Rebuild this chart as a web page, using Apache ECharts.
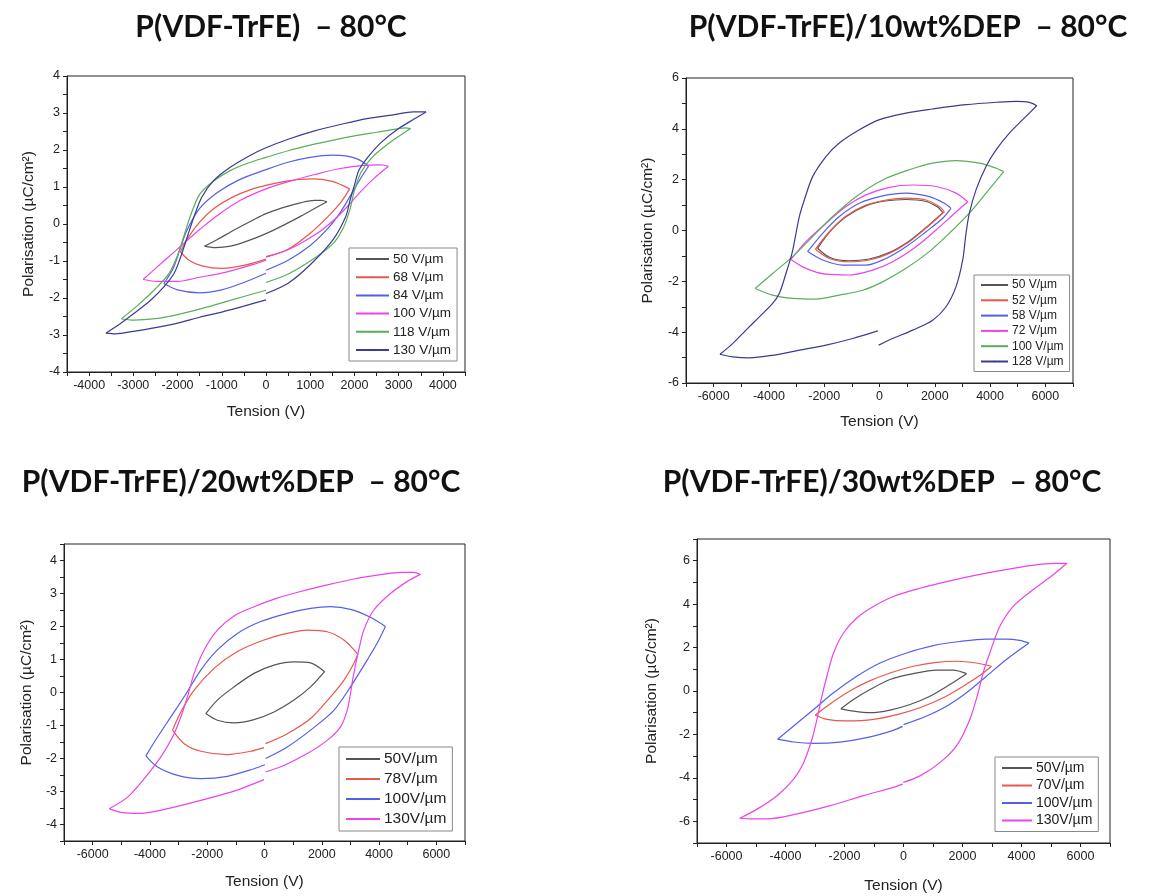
<!DOCTYPE html>
<html>
<head>
    <meta charset="UTF-8">
    <title>Cycles P-E P(VDF-TrFE)/DEP – 80°C</title>
    <script src="https://cdn.jsdelivr.net/npm/echarts@6/dist/echarts.min.js"></script>
    <style>
        html, body { margin: 0; padding: 0; background: #fff; }
        #chart { width: 1152px; height: 896px; }
    </style>
</head>
<body>
    <div id="chart"></div>
    <script>
        // ---- panel 1 : P(VDF-TrFE) ----
        const p1_50_up = [[-1390,-0.6],[-1100,-0.42],[-700,-0.15],[-300,0.1],[0,0.28],[400,0.45],[800,0.58],[1100,0.64],[1250,0.64],[1380,0.6]];
        const p1_50_lo = [[-1390,-0.6],[-1150,-0.64],[-800,-0.6],[-400,-0.45],[0,-0.26],[400,-0.03],[800,0.22],[1100,0.42],[1380,0.6]];
        const p1_68_up = [[-1935,-0.75],[-1750,-0.35],[-1500,0.05],[-1200,0.4],[-800,0.7],[-300,0.95],[200,1.1],[700,1.2],[1100,1.22],[1500,1.15],[1890,0.95]];
        const p1_68_lo = [[-1935,-0.75],[-1750,-0.97],[-1450,-1.13],[-1000,-1.2],[-500,-1.12],[0,-0.95],null,[0,-0.88],[500,-0.68],[1000,-0.25],[1400,0.2],[1700,0.6],[1890,0.95]];
        const p1_84_up = [[-2310,-1.61],[-2100,-1.2],[-1950,-0.7],[-1800,-0.2],[-1500,0.42],[-1100,0.85],[-600,1.2],[0,1.47],[500,1.67],[1000,1.8],[1500,1.86],[1800,1.84],[2100,1.74],[2318,1.56]];
        const p1_84_lo = [[-2310,-1.61],[-2000,-1.78],[-1500,-1.86],[-1000,-1.78],[-500,-1.58],[0,-1.33],null,[0,-1.25],[500,-0.98],[1000,-0.58],[1400,-0.12],[1700,0.35],[1950,0.85],[2150,1.25],[2318,1.56]];
        const p1_100_up = [[-2780,-1.5],[-2460,-1.16],[-2080,-0.76],[-1780,-0.44],[-1480,-0.13],[-1100,0.23],[-580,0.64],[0,0.95],[550,1.16],[1080,1.33],[1680,1.5],[2280,1.59],[2600,1.6],[2770,1.56]];
        const p1_100_lo = [[-2780,-1.5],[-2460,-1.55],[-2000,-1.55],[-1500,-1.44],[-900,-1.3],[-300,-1.1],[0,-0.98],null,[0,-0.9],[550,-0.67],[1150,-0.26],[1530,0.1],[1830,0.46],[2130,0.86],[2430,1.22],[2770,1.56]];
        const p1_118_up = [[-3270,-2.56],[-2900,-2.2],[-2500,-1.75],[-2200,-1.35],[-2000,-0.85],[-1850,-0.3],[-1700,0.25],[-1500,0.8],[-1200,1.15],[-800,1.45],[-400,1.65],[0,1.8],[500,1.98],[1000,2.13],[1500,2.26],[2000,2.38],[2500,2.48],[3000,2.58],[3150,2.6],[3270,2.58]];
        const p1_118_lo = [[-3270,-2.56],[-3000,-2.6],[-2500,-2.56],[-2000,-2.45],[-1500,-2.3],[-1000,-2.13],[-500,-1.96],[0,-1.79],null,[0,-1.58],[500,-1.35],[1000,-1.0],[1500,-0.55],[1750,-0.1],[1900,0.4],[2000,0.9],[2150,1.4],[2400,1.8],[2800,2.2],[3270,2.58]];
        const p1_130_up = [[-3620,-2.95],[-3290,-2.69],[-2990,-2.42],[-2610,-2.06],[-2310,-1.7],[-2080,-1.34],[-1930,-0.89],[-1780,-0.35],[-1630,0.19],[-1450,0.73],[-1180,1.18],[-800,1.54],[-350,1.86],[0,2.06],[550,2.31],[1080,2.51],[1680,2.69],[2280,2.85],[2880,2.95],[3330,3.03],[3620,3.03]];
        const p1_130_lo = [[-3620,-2.95],[-3400,-2.97],[-3000,-2.9],[-2500,-2.8],[-2000,-2.68],[-1500,-2.52],[-1000,-2.38],[-500,-2.22],[0,-2.05],null,[0,-1.88],[500,-1.6],[1000,-1.1],[1500,-0.45],[1800,0.19],[1900,0.64],[2000,1.05],[2100,1.45],[2300,1.8],[2600,2.2],[3000,2.58],[3400,2.87],[3620,3.03]];

        // ---- panel 2 : 10wt% DEP ----
        const p2_50_up = [[-2240,-0.7],[-1800,-0.05],[-1200,0.55],[-500,0.97],[200,1.16],[950,1.22],[1650,1.15],[2100,0.92],[2290,0.7]];
        const p2_50_lo = [[-2240,-0.7],[-1800,-1.06],[-1100,-1.19],[-370,-1.12],[350,-0.87],[1080,-0.41],[1720,0.15],[2290,0.7]];
        const p2_52_up = [[-2320,-0.74],[-1815,-0.05],[-1210,0.57],[-490,1.0],[235,1.2],[960,1.27],[1680,1.2],[2165,0.94],[2346,0.74]];
        const p2_52_lo = [[-2320,-0.74],[-1815,-1.1],[-1090,-1.23],[-370,-1.16],[356,-0.9],[1080,-0.44],[1740,0.15],[2346,0.74]];
        const p2_58_up = [[-2600,-0.83],[-2057,-0.11],[-1453,0.55],[-729,1.07],[114,1.36],[959,1.47],[1803,1.33],[2346,1.07],[2587,0.87]];
        const p2_58_lo = [[-2600,-0.83],[-2057,-1.16],[-1333,-1.36],[-489,-1.36],[235,-1.1],[959,-0.64],[1683,-0.05],[2286,0.48],[2587,0.87]];
        const p2_72_up = [[-3203,-1.14],[-2660,-0.44],[-1936,0.28],[-1212,0.94],[-489,1.4],[356,1.7],[1200,1.79],[2044,1.73],[2769,1.47],[3191,1.13]];
        const p2_72_lo = [[-3203,-1.14],[-2660,-1.49],[-1936,-1.72],[-1091,-1.75],[-247,-1.56],[476,-1.23],[1320,-0.64],[2044,0.02],[2648,0.61],[3191,1.13]];
        const p2_100_up = [[-4500,-2.28],[-3866,-1.69],[-3142,-1.03],[-2418,-0.24],[-1695,0.55],[-851,1.33],[114,1.99],[1079,2.39],[1924,2.65],[2769,2.75],[3613,2.65],[4216,2.45],[4493,2.32]];
        const p2_100_lo = [[-4500,-2.28],[-3866,-2.54],[-3142,-2.67],[-2298,-2.7],[-1453,-2.54],[-609,-2.35],[114,-2.02],[959,-1.49],[1803,-0.83],[2527,-0.11],[3251,0.68],[3854,1.47],[4493,2.32]];
        const p2_128_up = [[-5772,-4.87],[-5314,-4.45],[-4831,-3.92],[-4348,-3.4],[-3866,-2.87],[-3625,-2.48],[-3384,-1.69],[-3166,-0.9],[-3021,-0.11],[-2900,0.55],[-2720,1.2],[-2418,2.12],[-1936,2.91],[-1453,3.44],[-729,3.96],[0,4.36],[959,4.62],[1924,4.78],[3130,4.95],[4336,5.05],[4940,5.08],[5422,5.04],[5687,4.91]];
        const p2_128_lo = [[-5772,-4.87],[-5314,-4.97],[-4710,-5.01],[-3866,-4.91],[-2900,-4.71],[-1936,-4.51],[-971,-4.25],[-60,-3.95],null,[-30,-4.51],[476,-4.25],[1200,-3.92],[1924,-3.53],[2407,-3.0],[2769,-2.21],[3010,-1.16],[3130,-0.11],[3251,0.68],[3492,1.6],[3854,2.52],[4216,3.17],[4698,3.83],[5181,4.36],[5687,4.91]];

        // ---- panel 3 : 20wt% DEP ----
        const p3_50_up = [[-2050,-0.64],[-1644,-0.23],[-1063,0.17],[-366,0.58],[331,0.83],[1028,0.93],[1609,0.9],[2096,0.63]];
        const p3_50_lo = [[-2050,-0.64],[-1644,-0.84],[-1063,-0.92],[-366,-0.82],[331,-0.59],[1028,-0.23],[1609,0.17],[2096,0.63]];
        const p3_78_up = [[-3211,-1.14],[-2921,-0.59],[-2457,0.07],[-1760,0.73],[-947,1.24],[-17,1.59],[795,1.79],[1493,1.89],[2189,1.84],[2770,1.59],[3257,1.16]];
        const p3_78_lo = [[-3211,-1.14],[-2805,-1.55],[-2224,-1.78],[-1295,-1.88],[-482,-1.78],[-17,-1.67],null,[41,-1.55],[795,-1.25],[1609,-0.79],[2305,-0.13],[2770,0.37],[3118,0.88],[3257,1.16]];
        const p3_100_up = [[-4141,-1.92],[-3734,-1.35],[-3269,-0.74],[-2805,-0.13],[-2224,0.68],[-1644,1.29],[-947,1.79],[-134,2.15],[795,2.4],[1609,2.55],[2305,2.6],[3002,2.52],[3699,2.28],[4222,2.0]];
        const p3_100_lo = [[-4141,-1.92],[-3734,-2.26],[-3037,-2.51],[-2224,-2.61],[-1295,-2.54],[-366,-2.31],[17,-2.19],null,[41,-2.0],[795,-1.65],[1609,-1.14],[2421,-0.54],[3002,0.17],[3583,0.98],[3931,1.49],[4222,2.0]];
        const p3_130_up = [[-5418,-3.52],[-4779,-3.17],[-4199,-2.61],[-3618,-1.95],[-3211,-1.35],[-2921,-0.74],[-2689,-0.13],[-2457,0.58],[-2108,1.29],[-1644,1.89],[-1063,2.32],[-366,2.6],[447,2.86],[1260,3.06],[2189,3.26],[3118,3.44],[4048,3.57],[4745,3.64],[5209,3.64],[5441,3.58]];
        const p3_130_lo = [[-5418,-3.52],[-5012,-3.63],[-4315,-3.66],[-3386,-3.52],[-2224,-3.27],[-1063,-2.99],[-17,-2.64],null,[41,-2.41],[679,-2.21],[1493,-1.85],[2189,-1.45],[2654,-1.04],[2886,-0.54],[3002,-0.03],[3118,0.58],[3292,1.29],[3466,1.89],[3815,2.5],[4396,3.0],[4977,3.36],[5441,3.58]];

        // ---- panel 4 : 30wt% DEP ----
        const p4_50_up = [[-2124,-0.82],[-1696,-0.39],[-1133,0.07],[-456,0.53],[333,0.8],[1121,0.96],[1684,0.96],[2135,0.8]];
        const p4_50_lo = [[-2124,-0.82],[-1696,-0.93],[-1133,-1.0],[-456,-0.88],[220,-0.62],[896,-0.24],[1572,0.3],[2135,0.8]];
        const p4_70_up = [[-2992,-1.12],[-2597,-0.7],[-1921,-0.08],[-1245,0.41],[-456,0.83],[333,1.14],[1121,1.32],[1797,1.37],[2473,1.29],[2980,1.14]];
        const p4_70_lo = [[-2992,-1.12],[-2597,-1.31],[-1921,-1.38],[-1020,-1.31],[-119,-1.05],[558,-0.77],[1347,-0.31],[2023,0.22],[2586,0.71],[2980,1.14]];
        const p4_100_up = [[-4265,-2.22],[-3724,-1.61],[-3048,-0.85],[-2372,-0.08],[-1583,0.68],[-794,1.29],[107,1.75],[1008,2.09],[1910,2.28],[2811,2.39],[3487,2.39],[3938,2.33],[4254,2.21]];
        const p4_100_lo = [[-4265,-2.22],[-3724,-2.35],[-3048,-2.41],[-2147,-2.35],[-1245,-2.15],[-344,-1.81],[-30,-1.63],null,[0,-1.55],[783,-1.15],[1459,-0.7],[2135,-0.08],[2811,0.68],[3487,1.45],[4254,2.21]];
        const p4_130_up = [[-5549,-5.86],[-4963,-5.44],[-4287,-4.82],[-3724,-4.06],[-3386,-3.3],[-3104,-2.22],[-2935,-1.31],[-2766,-0.24],[-2597,0.68],[-2372,1.75],[-2034,2.67],[-1583,3.36],[-1020,3.89],[-344,4.35],[558,4.73],[1459,5.04],[2586,5.37],[3713,5.65],[4614,5.83],[5177,5.88],[5538,5.88]];
        const p4_130_lo = [[-5549,-5.86],[-5189,-5.89],[-4625,-5.89],[-3611,-5.66],[-2485,-5.28],[-1358,-4.82],[-344,-4.44],[-28,-4.29],null,[-6,-4.21],[558,-3.91],[1234,-3.3],[1797,-2.53],[2248,-1.31],[2530,-0.08],[2699,0.83],[2924,1.75],[3262,2.97],[3713,3.89],[4389,4.66],[5065,5.34],[5538,5.88]];

        // titres et légendes
        const titles = ['P(VDF-TrFE)  – 80°C', 'P(VDF-TrFE)/10wt%DEP  – 80°C', 'P(VDF-TrFE)/20wt%DEP  – 80°C', 'P(VDF-TrFE)/30wt%DEP  – 80°C'];
        const names1 = ['50 V/µm', '68 V/µm', '84 V/µm', '100 V/µm', '118 V/µm', '130 V/µm'];
        const names2 = ['50 V/µm', '52 V/µm', '58 V/µm', '72 V/µm', '100 V/µm', '128 V/µm'];
        const names3 = ['50V/µm', '78V/µm', '100V/µm', '130V/µm'];
        const names4 = ['50V/µm', '70V/µm', '100V/µm', '130V/µm'];

        // couleurs Origin (un peu adoucies comme sur l'image)
        const BLACK = '#555555', RED = '#e8584c', BLUE = '#5560e6', MAGENTA = '#ea44ea', GREEN = '#5aae5a', NAVY = '#3b3b94';

        const loops = [
            [[names1[0], BLACK, p1_50_up, p1_50_lo], [names1[1], RED, p1_68_up, p1_68_lo], [names1[2], BLUE, p1_84_up, p1_84_lo],
             [names1[3], MAGENTA, p1_100_up, p1_100_lo], [names1[4], GREEN, p1_118_up, p1_118_lo], [names1[5], NAVY, p1_130_up, p1_130_lo]],
            [[names2[0], BLACK, p2_50_up, p2_50_lo], [names2[1], RED, p2_52_up, p2_52_lo], [names2[2], BLUE, p2_58_up, p2_58_lo],
             [names2[3], MAGENTA, p2_72_up, p2_72_lo], [names2[4], GREEN, p2_100_up, p2_100_lo], [names2[5], NAVY, p2_128_up, p2_128_lo]],
            [[names3[0], BLACK, p3_50_up, p3_50_lo], [names3[1], RED, p3_78_up, p3_78_lo], [names3[2], BLUE, p3_100_up, p3_100_lo],
             [names3[3], MAGENTA, p3_130_up, p3_130_lo]],
            [[names4[0], BLACK, p4_50_up, p4_50_lo], [names4[1], RED, p4_70_up, p4_70_lo], [names4[2], BLUE, p4_100_up, p4_100_lo],
             [names4[3], MAGENTA, p4_130_up, p4_130_lo]]
        ];

        // mise en page des quatre graphes
        const grids = [
            { left: 67, top: 76, width: 398, height: 296 },
            { left: 686, top: 78, width: 387, height: 305 },
            { left: 64, top: 544, width: 401, height: 297 },
            { left: 697, top: 539, width: 413, height: 304 }
        ];
        const xRanges = [[-4500, 4500, 500, 1000], [-7000, 7000, 1000, 2000], [-7000, 7000, 1000, 2000], [-7000, 7000, 1000, 2000]];
        const yRanges = [[-4, 4, 0.5, 1], [-6, 6, 1, 2], [-4.5, 4.5, 0.5, 1], [-7, 7, 1, 2]];
        const titlePos = [[266, 7], [903, 7], [236, 462], [877, 462]];
        const legendPos = [
            { left: 349, top: 248, font: 13.5, w: 33, gap: 4.2 },
            { left: 974, top: 275, font: 12, w: 27, gap: 3.3 },
            { left: 339, top: 747, font: 15.5, w: 34, gap: 4 },
            { left: 995, top: 757, font: 14, w: 30, gap: 3.5 }
        ];
        const yNameGap = [30, 30, 29, 37];
        const xNameGap = [32, 31, 33, 35];
        const FONT = 'Liberation Sans, Arial, sans-serif';

        // découpe une branche aux valeurs null (trou à V = 0)
        function splitBranch(arr) {
            const out = [[]];
            arr.forEach(p => {
                if (p === null) out.push([]);
                else out[out.length - 1].push(p);
            });
            return out;
        }

        function stepFormatter(step) {
            return v => (Math.abs(v % step) < 1e-6 ? String(Math.round(v * 100) / 100) : '');
        }

        const series = [];
        loops.forEach((panel, i) => {
            panel.forEach(([name, color, up, lo]) => {
                [up].concat(splitBranch(lo)).forEach(seg => {
                    series.push({
                        type: 'line',
                        name: i + '|' + name,
                        xAxisIndex: i,
                        yAxisIndex: i,
                        data: seg,
                        smooth: 0.3,
                        symbol: 'none',
                        showSymbol: false,
                        lineStyle: { color: color, width: 1.2 },
                        itemStyle: { color: color },
                        animation: false
                    });
                });
            });
        });

        const allNames = [names1, names2, names3, names4];

        const option = {
            backgroundColor: '#fff',
            animation: false,
            title: titles.map((t, i) => ({
                text: t,
                left: titlePos[i][0],
                top: titlePos[i][1],
                textAlign: 'center',
                textStyle: { fontFamily: 'Lato', fontWeight: 'bold', fontSize: 30, color: '#111' }
            })),
            grid: grids.map(g => Object.assign({ show: true, borderColor: '#222', borderWidth: 1, containLabel: false }, g)),
            legend: allNames.map((names, i) => ({
                orient: 'vertical',
                left: legendPos[i].left,
                top: legendPos[i].top,
                data: names.map(n => i + '|' + n),
                formatter: n => n.split('|')[1],
                itemWidth: legendPos[i].w,
                itemHeight: 2,
                itemGap: legendPos[i].gap,
                padding: [4, 6, 4, 6],
                borderColor: '#888',
                borderWidth: 1,
                borderRadius: 0,
                backgroundColor: '#fff',
                selectedMode: false,
                textStyle: { fontFamily: FONT, fontSize: legendPos[i].font, color: '#222', padding: [0, 0, 0, -1] }
            })),
            xAxis: xRanges.map((r, i) => ({
                type: 'value',
                gridIndex: i,
                min: r[0],
                max: r[1],
                interval: r[2],
                name: 'Tension (V)',
                nameLocation: 'middle',
                nameGap: xNameGap[i],
                nameTextStyle: { fontFamily: FONT, fontSize: 15.5, color: '#222' },
                axisLine: { onZero: false, lineStyle: { color: '#222', width: 1 } },
                axisTick: { length: 4, lineStyle: { color: '#222' } },
                axisLabel: { fontFamily: FONT, fontSize: 12.5, color: '#222', margin: 7, formatter: stepFormatter(r[3]) },
                splitLine: { show: false }
            })),
            yAxis: yRanges.map((r, i) => ({
                type: 'value',
                gridIndex: i,
                min: r[0],
                max: r[1],
                interval: r[2],
                name: 'Polarisation (µC/cm²)',
                nameLocation: 'middle',
                nameGap: yNameGap[i],
                nameTextStyle: { fontFamily: FONT, fontSize: 15.5, color: '#222' },
                axisLine: { onZero: false, lineStyle: { color: '#222', width: 1 } },
                axisTick: { length: 4, lineStyle: { color: '#222' } },
                axisLabel: { fontFamily: FONT, fontSize: 12.5, color: '#222', margin: 7, formatter: stepFormatter(r[3]) },
                splitLine: { show: false }
            })),
            series: series
        };

        const chart = echarts.init(document.getElementById('chart'));
        chart.setOption(option);
        window.addEventListener('resize', () => chart.resize());
    </script>
</body>
</html>
